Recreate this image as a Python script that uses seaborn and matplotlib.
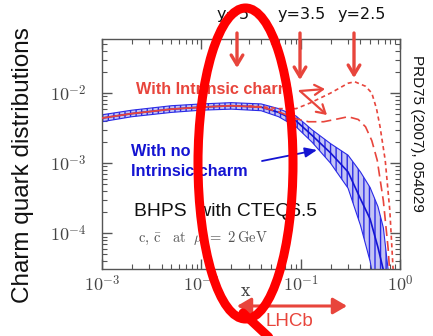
import matplotlib
matplotlib.use("Agg")
import matplotlib.pyplot as plt
from matplotlib.patches import Ellipse
from matplotlib.lines import Line2D
from matplotlib.ticker import NullFormatter
import seaborn as sns

# CTEQ6.5, no intrinsic charm: central value and error band
x_cteq = [1e-3, 2e-3, 5e-3, 1e-2, 2e-2, 4e-2, 6e-2, 0.09, 0.13, 0.2, 0.3, 0.4, 0.5, 0.6, 0.68, 0.76, 0.85]
c_center = [4.4e-3, 5.1e-3, 5.9e-3, 6.3e-3, 6.6e-3, 6.3e-3, 5.3e-3, 4.0e-3, 2.5e-3, 1.4e-3, 7.5e-4, 3.1e-4,
            1.6e-4, 6.3e-5, 3.0e-5, 1.2e-5, 3e-6]
c_upper = [4.9e-3, 5.7e-3, 6.6e-3, 7.0e-3, 7.3e-3, 7.0e-3, 6.0e-3, 4.7e-3, 3.0e-3, 1.9e-3, 1.3e-3, 7.5e-4,
           4.5e-4, 2.4e-4, 1.2e-4, 3.0e-5, 5e-6]
c_lower = [3.9e-3, 4.6e-3, 5.3e-3, 5.7e-3, 5.9e-3, 5.6e-3, 4.6e-3, 3.3e-3, 2.0e-3, 1.0e-3, 4.4e-4, 1.3e-4,
           4.0e-5, 1e-5, 4e-6, 1e-6, 1e-7]

# BHPS intrinsic charm: common low-x part, then two models
x_ic_low = [1e-3, 2e-3, 5e-3, 1e-2, 2e-2, 4e-2]
y_ic_low = [4.4e-3, 5.1e-3, 5.9e-3, 6.3e-3, 6.6e-3, 6.3e-3]
x_ic_hi = [0.03, 0.04, 0.06, 0.09, 0.124, 0.2, 0.3, 0.35, 0.45, 0.52, 0.58, 0.63, 0.71, 0.79, 0.85, 0.9]
y_ic_hi = [6.5e-3, 6.4e-3, 6.0e-3, 6.0e-3, 7.2e-3, 1.0e-2, 1.38e-2, 1.45e-2, 1.25e-2, 1.0e-2, 6e-3, 3.3e-3,
           1.1e-3, 2.1e-4, 3.3e-5, 5e-6]
x_ic_lo = [0.03, 0.04, 0.06, 0.09, 0.12, 0.17, 0.24, 0.3, 0.38, 0.45, 0.52, 0.59, 0.68, 0.76, 0.8]
y_ic_lo = [6.5e-3, 6.3e-3, 5.4e-3, 4.3e-3, 3.9e-3, 3.9e-3, 4.3e-3, 4.6e-3, 4.2e-3, 3.3e-3, 2.1e-3, 1.1e-3,
           2.9e-4, 6e-5, 2e-5]

xtick_vals = [1e-3, 1e-2, 1e-1, 1e0]
xtick_labels = [r"$10^{-3}$", r"$10^{-2}$", r"$10^{-1}$", r"$10^{0}$"]
ytick_vals = [1e-4, 1e-3, 1e-2]
ytick_labels = [r"$10^{-4}$", r"$10^{-3}$", r"$10^{-2}$"]

sns.set_theme(style="ticks")
plt.rcParams["font.family"] = ["Liberation Sans", "DejaVu Sans"]
plt.rcParams["mathtext.fontset"] = "cm"
plt.rcParams["hatch.linewidth"] = 1.0

RED = "#e8453c"
BLUE = "#1414d2"
W, H = 433, 336


def fp(x, y):
    # pixel position -> figure fraction
    return (x / W, 1 - y / H)


fig = plt.figure(figsize=(W / 100, H / 100), dpi=100)
ax = fig.add_axes([102 / W, 1 - 269 / H, 298 / W, 230 / H])
ax.set_xscale("log")
ax.set_yscale("log")

ax.fill_between(x_cteq, c_lower, c_upper, facecolor="#c4c4f4", edgecolor="#2a2ae6",
                hatch="|||", linewidth=0.8, zorder=2)
sns.lineplot(x=x_cteq, y=c_center, ax=ax, color=BLUE, lw=1.2, zorder=3)
sns.lineplot(x=x_ic_low, y=y_ic_low, ax=ax, color=RED, lw=1.3, zorder=4)
sns.lineplot(x=x_ic_hi, y=y_ic_hi, ax=ax, color=RED, lw=1.2, linestyle=(0, (2.5, 2)), zorder=4)
sns.lineplot(x=x_ic_lo, y=y_ic_lo, ax=ax, color=RED, lw=1.2, linestyle=(0, (6, 3)), zorder=4)

ax.set_xlim(1e-3, 1)
ax.set_ylim(3.1e-5, 5.9e-2)
ax.set_xticks(xtick_vals)
ax.set_xticklabels(xtick_labels)
ax.set_yticks(ytick_vals)
ax.set_yticklabels(ytick_labels)
ax.xaxis.set_minor_formatter(NullFormatter())
ax.yaxis.set_minor_formatter(NullFormatter())
ax.tick_params(which="both", direction="in", top=True, right=True, color="#555555",
               labelcolor="#444444", labelsize=13)
ax.tick_params(which="major", length=7, width=1)
ax.tick_params(which="minor", length=3.5, width=0.8)
ax.tick_params(axis="x", pad=4)
ax.tick_params(axis="y", pad=11)
for s in ax.spines.values():
    s.set_color("#555555")
    s.set_linewidth(1.0)

# labels
fig.text(*fp(23, 165), "Charm quark distributions", rotation=90, ha="center", va="center",
         fontsize=17.5, color="#111111")
fig.text(*fp(245, 292), "x", family="DejaVu Serif", fontsize=12, ha="center", va="center", color="#444444")
fig.text(*fp(417, 133), "PRD75 (2007), 054029", rotation=270, ha="center", va="center",
         fontsize=11, color="#111111")

# rapidity arrows
for lab, xc, xa, tip in [("y=5", 233, 237, 68), ("y=3.5", 302, 300, 80), ("y=2.5", 362, 354, 78)]:
    fig.text(*fp(xc, 15), lab, family="DejaVu Sans", fontsize=11.5, ha="center", va="center", color="#111111")
    ax.annotate("", xy=fp(xa, tip), xytext=fp(xa, 33), xycoords="figure fraction",
                arrowprops=dict(arrowstyle="->,head_length=0.5,head_width=0.3", color=RED, lw=2.4,
                                mutation_scale=14, shrinkA=0, shrinkB=0), annotation_clip=False)

fig.text(*fp(136, 90), "With Intrinsic charm", fontsize=11.7, fontweight="bold", color=RED,
         ha="left", va="center")
for end in [(325, 89), (327, 115)]:
    ax.annotate("", xy=fp(*end), xytext=fp(300, 91), xycoords="figure fraction",
                arrowprops=dict(arrowstyle="->,head_length=0.5,head_width=0.3", color=RED, lw=1.6,
                                mutation_scale=12, shrinkA=0, shrinkB=0), annotation_clip=False)

fig.text(*fp(131, 151), "With no", fontsize=11.7, fontweight="bold", color=BLUE, ha="left", va="center")
fig.text(*fp(131, 171), "Intrinsic charm", fontsize=11.7, fontweight="bold", color=BLUE, ha="left", va="center")
ax.annotate("", xy=fp(317, 150), xytext=fp(262, 161), xycoords="figure fraction",
            arrowprops=dict(arrowstyle="-|>,head_length=0.6,head_width=0.25", color=BLUE, lw=1.3,
                            mutation_scale=12, shrinkA=0, shrinkB=0), annotation_clip=False)

fig.text(*fp(134, 212), "BHPS  with CTEQ6.5", fontsize=13.9, color="#111111", ha="left", va="center")
fig.text(*fp(138, 238), r"$\mathrm{c,\,\bar{c}\ \ \ at\ \ \mu\ =\ 2\,GeV}$", fontsize=10.5,
         color="#555555", ha="left", va="center")

# LHCb acceptance
ax.annotate("", xy=fp(347, 306), xytext=fp(237, 306), xycoords="figure fraction",
            arrowprops=dict(arrowstyle="<|-|>,head_length=0.6,head_width=0.35", color=RED, lw=2.2,
                            mutation_scale=14, shrinkA=0, shrinkB=0), annotation_clip=False)
fig.text(*fp(289, 322), "LHCb", fontsize=13.5, color=RED, ha="center", va="center")

# hand-drawn red ellipse on top
fig.add_artist(Ellipse(fp(245.5, 163.5), 95 / W, 311 / H, transform=fig.transFigure, fill=False,
                       ec="#ff0000", lw=6.5, zorder=20))
fig.add_artist(Line2D([243 / W, 274 / W], [1 - 313 / H, 1 - 342 / H], transform=fig.transFigure,
                      color="#ff0000", lw=6.5, zorder=20))

fig.savefig("out.png", dpi=100)
